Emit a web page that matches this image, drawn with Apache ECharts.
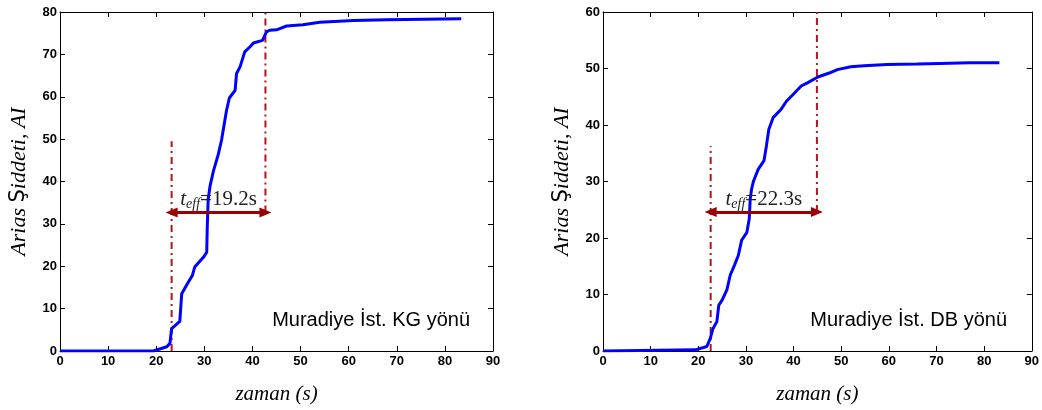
<!DOCTYPE html>
<html><head><meta charset="utf-8">
<script src="https://cdn.jsdelivr.net/npm/echarts@6/dist/echarts.min.js"></script>
<style>html,body{margin:0;padding:0;background:#fff}#c{width:1042px;height:410px}</style>
</head><body><div id="c"></div><script>
// ---- data ----
const kgTime = [0,19.4,22.2,22.85,23.2,24.9,25.3,26.3,27.5,28,29.8,30.5,30.6,30.8,31.2,31.9,32.9,33.6,34,34.6,35.2,36.4,36.7,37.4,38.4,39.5,40.2,42.1,42.9,43.6,45,47.1,50.5,54,61,67.9,83.4];
const kgAI   = [0,0,1,1.8,5.3,7,13.5,15.5,17.8,19.8,22.1,23.3,28.8,35.8,39,42.5,46.4,49.9,52.6,56.7,59.7,61.5,65.5,67,70.6,71.8,72.7,73.3,75.3,75.7,75.8,76.7,77,77.6,78,78.2,78.4];
const dbTime = [0,19.4,21.8,22.5,23.1,23.9,24.3,25,26,26.7,27.6,28.4,29.1,30.2,30.7,30.9,31.2,31.6,32.6,33.8,34.3,34.8,35.7,37.4,38.5,39.9,41.6,43,45.1,47.5,49.2,52,54.8,59.6,65.9,70.7,76.9,83.2];
const dbAI   = [0,0.2,0.8,2.2,4,5.2,8.1,9,10.8,13.4,15.2,16.9,19.6,21,23.4,26.9,28.7,30.1,32.2,33.7,36.3,39.2,41.3,42.8,44.2,45.4,46.9,47.5,48.5,49.2,49.8,50.3,50.5,50.7,50.8,50.9,51,51];
const kgBounds = [23.2, 42.7];      // t5, t95 (s)
const dbBounds = [22.6, 44.9];
const kgArrowY = 32.7, dbArrowY = 24.6;
const kgStartTop = 49.5, dbStartTop = 36.3;
const kgTeff = '19.2s', dbTeff = '22.3s';
const kgTitle = 'Muradiye İst. KG yönü', dbTitle = 'Muradiye İst. DB yönü';
const xTickMax = 90, xTickStep = 10;
const kgYMax = 80, dbYMax = 60, yTickStep = 10;
const xName = 'zaman (s)';
const yNameParts = ['Arias ', 'Ş', 'iddeti, AI'];

// ---- chart ----
const chart = echarts.init(document.getElementById('c'), null, {renderer:'canvas'});
const BLUE = '#0000ff', DASH = '#b3141c', ARROW = '#990000';
const serif = '"Liberation Serif","Times New Roman",serif';
const sans = '"Liberation Sans",Arial,sans-serif';

const grids = [
  {left:60, top:12, width:433, height:341},
  {left:603, top:12, width:433, height:341}
];
function axisLine(){ return {show:true, onZero:false, lineStyle:{color:'#000', width:1}}; }
function tick(){ return {show:true, inside:true, length:5, lineStyle:{color:'#000', width:1}}; }
const tickLabel = {color:'#000', fontFamily:sans, fontWeight:'bold', fontSize:13};

const xAxis = [], yAxis = [];
[0,1].forEach(g=>{
  xAxis.push({type:'value', gridIndex:g, position:'bottom', min:0, max:xTickMax, interval:xTickStep,
    axisLine:axisLine(), axisTick:tick(), splitLine:{show:false},
    axisLabel:Object.assign({margin:4, showMaxLabel:true}, tickLabel),
    name:xName, nameLocation:'middle', nameGap:33,
    nameTextStyle:{fontFamily:serif, fontStyle:'italic', fontWeight:'normal', fontSize:21, color:'#000'}});
  xAxis.push({type:'value', gridIndex:g, position:'top', min:0, max:xTickMax, interval:xTickStep,
    axisLine:axisLine(), axisTick:tick(), splitLine:{show:false}, axisLabel:{show:false}});
  const ymax = g===0 ? kgYMax : dbYMax;
  yAxis.push({type:'value', gridIndex:g, position:'left', min:0, max:ymax, interval:yTickStep,
    axisLine:axisLine(), axisTick:tick(), splitLine:{show:false},
    axisLabel:Object.assign({margin:3}, tickLabel),
    name:'{a|'+yNameParts[0]+'}{b|'+yNameParts[1]+'}{a|'+yNameParts[2]+'}',
    nameLocation:'middle', nameGap:30, nameRotate:90,
    nameTextStyle:{color:'#000', rich:{
      a:{fontFamily:serif, fontStyle:'italic', fontWeight:'normal', fontSize:22, color:'#000'},
      b:{fontFamily:'"DejaVu Sans",sans-serif', fontStyle:'normal', fontWeight:'normal', fontSize:21, color:'#000'}}}});
  yAxis.push({type:'value', gridIndex:g, position:'right', min:0, max:ymax, interval:yTickStep,
    axisLine:axisLine(), axisTick:tick(), splitLine:{show:false}, axisLabel:{show:false}});
});

function panelSeries(g, t, v, bounds, arrowY, startTop, teff, ymax){
  const xi = 2*g, yi = 2*g;
  const dashStyle = {color:DASH, width:2, type:[7,4,2,4]};
  return [
    {type:'line', xAxisIndex:xi, yAxisIndex:yi, data:[[bounds[0],0],[bounds[0],startTop]],
      symbol:'none', lineStyle:dashStyle, z:2, silent:true},
    {type:'line', xAxisIndex:xi, yAxisIndex:yi, data:[[bounds[1],arrowY],[bounds[1],ymax]],
      symbol:'none', lineStyle:dashStyle, z:2, silent:true},
    {type:'line', xAxisIndex:xi, yAxisIndex:yi, data:t.map((x,i)=>[x,v[i]]),
      symbol:'none', lineStyle:{color:BLUE, width:3}, z:3, silent:true},
    {type:'line', xAxisIndex:xi, yAxisIndex:yi, data:[], z:4, silent:true,
      markLine:{silent:true, symbol:['triangle','triangle'], symbolSize:[10,12],
        lineStyle:{color:ARROW, width:3, type:'solid'},
        label:{show:true, position:'middle', distance:1,
          formatter:'{t|t}{s|eff}{n|='+teff+'}',
          rich:{
            t:{fontFamily:serif, fontStyle:'italic', fontSize:21, color:'#222'},
            s:{fontFamily:serif, fontStyle:'italic', fontSize:14, color:'#222', padding:[9,0,0,0]},
            n:{fontFamily:serif, fontSize:21, color:'#222'}}},
        data:[[{coord:[bounds[0],arrowY]},{coord:[bounds[1],arrowY]}]]}}
  ];
}

const series = [].concat(
  panelSeries(0, kgTime, kgAI, kgBounds, kgArrowY, kgStartTop, kgTeff, kgYMax),
  panelSeries(1, dbTime, dbAI, dbBounds, dbArrowY, dbStartTop, dbTeff, dbYMax)
);

chart.setOption({
  animation:false,
  backgroundColor:'#fff',
  grid:grids,
  xAxis:xAxis, yAxis:yAxis, series:series,
  graphic:[
    {type:'text', x:470, y:320, style:{text:kgTitle, fontFamily:sans, fontSize:20, fill:'#000', align:'right', verticalAlign:'middle'}},
    {type:'text', x:1007, y:320, style:{text:dbTitle, fontFamily:sans, fontSize:20, fill:'#000', align:'right', verticalAlign:'middle'}}
  ]
});
</script></body></html>
